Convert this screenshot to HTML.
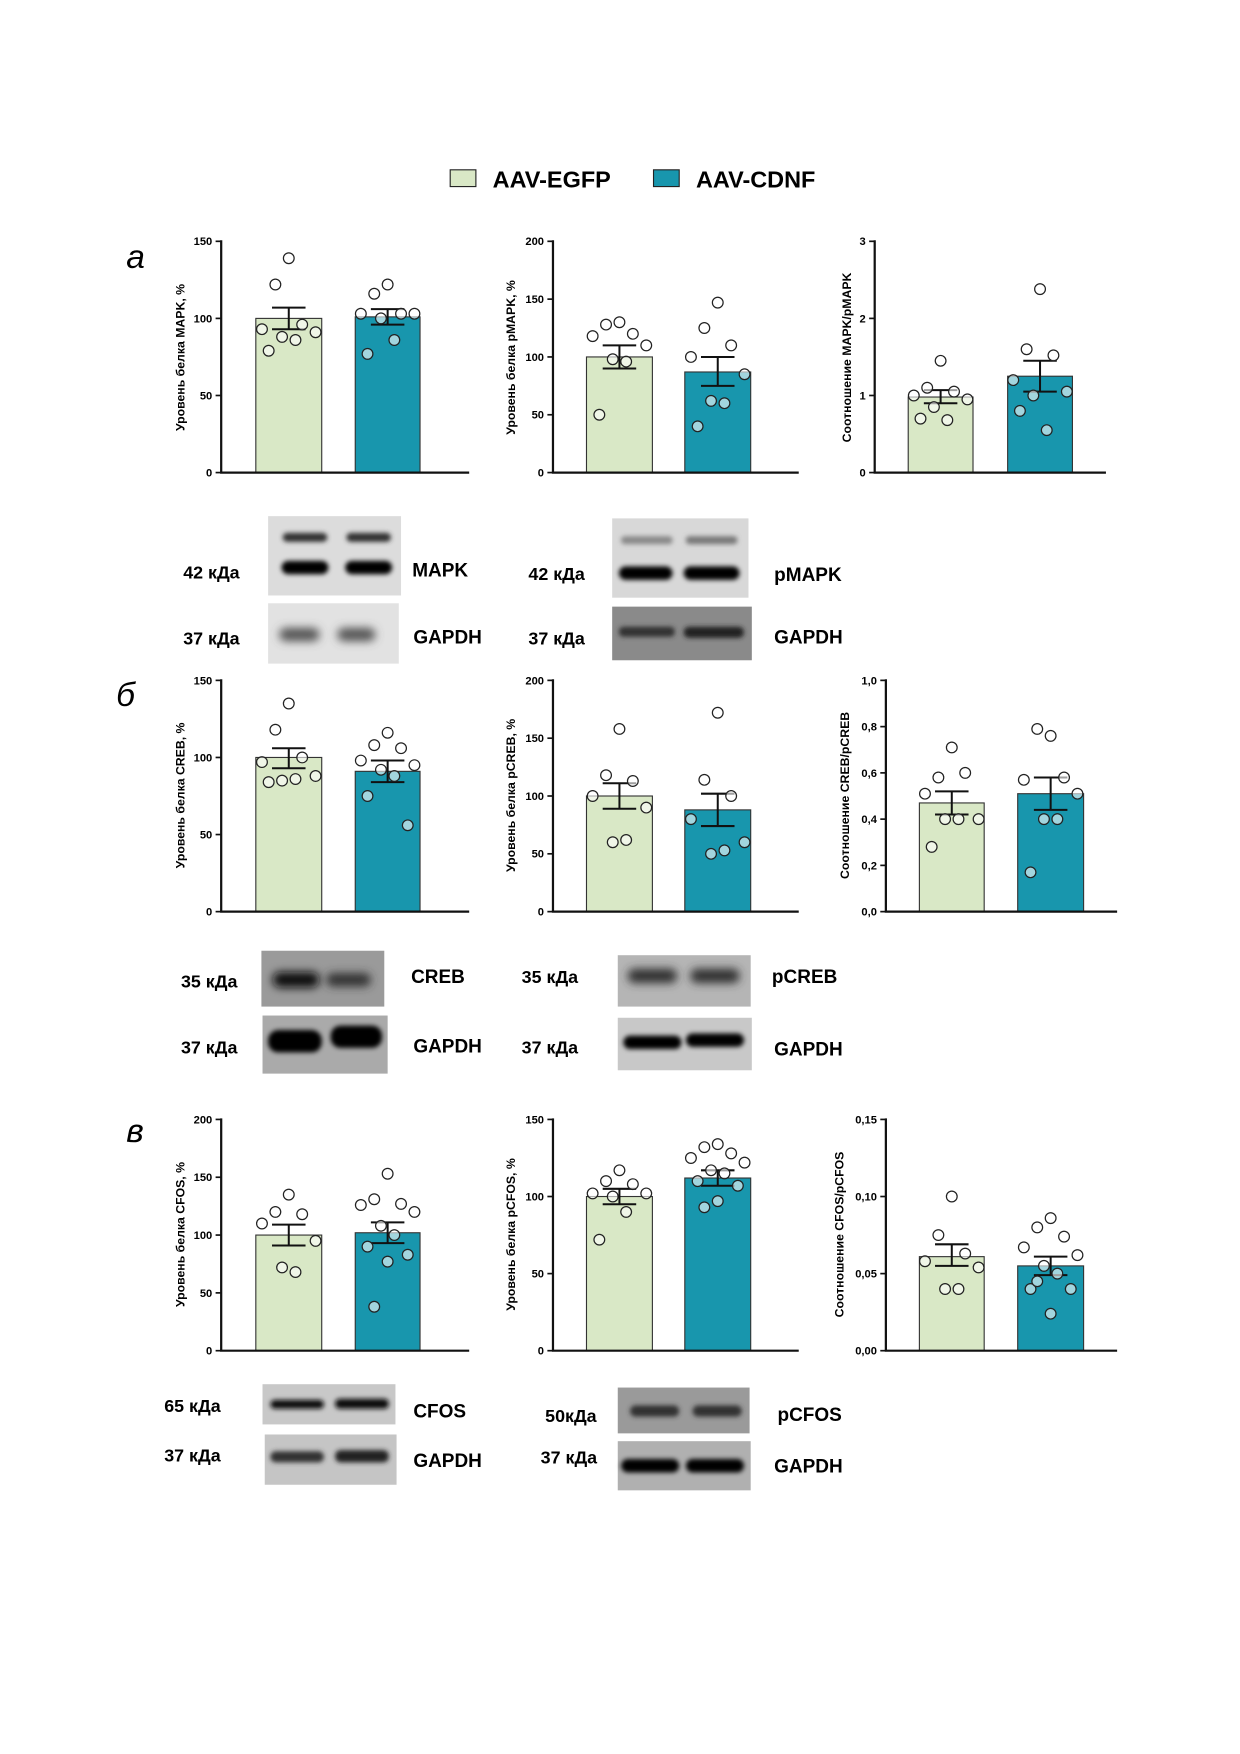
<!DOCTYPE html>
<html><head><meta charset="utf-8"><style>
html,body{margin:0;padding:0;background:#fff}
svg{display:block}
text{font-family:"Liberation Sans",sans-serif}
.t{font-size:10px;font-weight:bold;text-anchor:end}
.yl{font-size:11px;font-weight:bold;text-anchor:middle}
.bl{font-size:17px;font-weight:bold}
.kd{font-size:16px;font-weight:bold}
.pl{font-size:30px;font-style:italic}
</style></head><body>
<svg id="s" width="1240" height="1754" viewBox="0 0 1110 1570" preserveAspectRatio="none" xmlns="http://www.w3.org/2000/svg">
<defs>
<filter id="b1" x="-50%" y="-100%" width="200%" height="300%"><feGaussianBlur stdDeviation="2.2"/></filter>
<filter id="b2" x="-50%" y="-100%" width="200%" height="300%"><feGaussianBlur stdDeviation="4"/></filter>
</defs>
<rect width="1110" height="1570" fill="#fff"/>
<!-- legend -->
<rect x="403" y="152" width="23" height="15" fill="#d9e8c6" stroke="#222" stroke-width="1"/>
<text x="441" y="168" style="font-size:21px;font-weight:bold">AAV-EGFP</text>
<rect x="585" y="152" width="23" height="15" fill="#1896ad" stroke="#222" stroke-width="1"/>
<text x="623" y="168" style="font-size:21px;font-weight:bold">AAV-CDNF</text>
<!-- panel letters -->
<text class="pl" x="113" y="240">а</text>
<text class="pl" x="104" y="632">б</text>
<text class="pl" x="113" y="1022">в</text>
<g id="charts"></g>
<!-- tick labels row a -->
<text class="t" x="190" y="426.5">0</text><text class="t" x="190" y="357.5">50</text><text class="t" x="190" y="288.5">100</text><text class="t" x="190" y="219.5">150</text>
<text class="t" x="487" y="426.5">0</text><text class="t" x="487" y="374.75">50</text><text class="t" x="487" y="323">100</text><text class="t" x="487" y="271.25">150</text><text class="t" x="487" y="219.5">200</text>
<text class="t" x="775" y="426.5">0</text><text class="t" x="775" y="357.5">1</text><text class="t" x="775" y="288.5">2</text><text class="t" x="775" y="219.5">3</text>
<!-- row b -->
<text class="t" x="190" y="819.5">0</text><text class="t" x="190" y="750.5">50</text><text class="t" x="190" y="681.5">100</text><text class="t" x="190" y="612.5">150</text>
<text class="t" x="487" y="819.5">0</text><text class="t" x="487" y="767.75">50</text><text class="t" x="487" y="716">100</text><text class="t" x="487" y="664.25">150</text><text class="t" x="487" y="612.5">200</text>
<text class="t" x="785" y="819.5">0,0</text><text class="t" x="785" y="778.1">0,2</text><text class="t" x="785" y="736.7">0,4</text><text class="t" x="785" y="695.3">0,6</text><text class="t" x="785" y="653.9">0,8</text><text class="t" x="785" y="612.5">1,0</text>
<!-- row c -->
<text class="t" x="190" y="1212.5">0</text><text class="t" x="190" y="1160.75">50</text><text class="t" x="190" y="1109">100</text><text class="t" x="190" y="1057.25">150</text><text class="t" x="190" y="1005.5">200</text>
<text class="t" x="487" y="1212.5">0</text><text class="t" x="487" y="1143.5">50</text><text class="t" x="487" y="1074.5">100</text><text class="t" x="487" y="1005.5">150</text>
<text class="t" x="785" y="1212.5">0,00</text><text class="t" x="785" y="1143.5">0,05</text><text class="t" x="785" y="1074.5">0,10</text><text class="t" x="785" y="1005.5">0,15</text>
<!-- y labels -->
<text class="yl" transform="translate(165,320) rotate(-90)">Уровень белка MAPK, %</text>
<text class="yl" transform="translate(461,320) rotate(-90)">Уровень белка pMAPK, %</text>
<text class="yl" transform="translate(762,320) rotate(-90)">Соотношение MAPK/pMAPK</text>
<text class="yl" transform="translate(165,712) rotate(-90)">Уровень белка CREB, %</text>
<text class="yl" transform="translate(461,712) rotate(-90)">Уровень белка pCREB, %</text>
<text class="yl" transform="translate(760,712) rotate(-90)">Соотношение CREB/pCREB</text>
<text class="yl" transform="translate(165,1105) rotate(-90)">Уровень белка CFOS, %</text>
<text class="yl" transform="translate(461,1105) rotate(-90)">Уровень белка pCFOS, %</text>
<text class="yl" transform="translate(755,1105) rotate(-90)">Соотношение CFOS/pCFOS</text>

<!-- blots a -->
<rect x="240" y="462" width="119" height="71" fill="#dcdcdc"/>
<rect x="253" y="477" width="40" height="8" rx="4" fill="#333" filter="url(#b1)"/>
<rect x="310" y="477" width="40" height="8" rx="4" fill="#333" filter="url(#b1)"/>
<rect x="252" y="502" width="42" height="12" rx="6" fill="#000" filter="url(#b1)"/>
<rect x="309" y="502" width="42" height="12" rx="6" fill="#000" filter="url(#b1)"/>
<rect x="240" y="540" width="117" height="54" fill="#e2e2e2"/>
<rect x="250" y="562" width="36" height="12" rx="6" fill="#555" filter="url(#b2)"/>
<rect x="302" y="562" width="34" height="12" rx="6" fill="#555" filter="url(#b2)"/>
<text class="kd" x="164" y="518">42 кДа</text><text class="bl" x="369" y="516">MAPK</text>
<text class="kd" x="164" y="577">37 кДа</text><text class="bl" x="370" y="576">GAPDH</text>
<rect x="548" y="464" width="122" height="71" fill="#d8d8d8"/>
<rect x="556" y="480" width="46" height="7" rx="3" fill="#888" filter="url(#b1)"/>
<rect x="614" y="480" width="46" height="7" rx="3" fill="#777" filter="url(#b1)"/>
<rect x="554" y="507" width="48" height="12" rx="6" fill="#000" filter="url(#b1)"/>
<rect x="612" y="507" width="50" height="12" rx="6" fill="#000" filter="url(#b1)"/>
<rect x="548" y="543" width="125" height="48" fill="#8a8a8a"/>
<rect x="554" y="561" width="50" height="9" rx="4" fill="#333" filter="url(#b1)"/>
<rect x="612" y="561" width="54" height="10" rx="5" fill="#222" filter="url(#b1)"/>
<text class="kd" x="473" y="519">42 кДа</text><text class="bl" x="693" y="520">pMAPK</text>
<text class="kd" x="473" y="577">37 кДа</text><text class="bl" x="693" y="576">GAPDH</text>
<!-- blots b -->
<rect x="234" y="851" width="110" height="50" fill="#9a9a9a"/>
<rect x="244" y="870" width="42" height="14" rx="7" fill="#111" filter="url(#b2)"/>
<rect x="292" y="871" width="40" height="12" rx="6" fill="#333" filter="url(#b2)"/>
<text class="kd" x="162" y="884">35 кДа</text><text class="bl" x="368" y="880">CREB</text>
<rect x="235" y="909" width="112" height="52" fill="#aaa"/>
<rect x="240" y="922" width="48" height="20" rx="9" fill="#000" filter="url(#b1)"/>
<rect x="296" y="918" width="46" height="20" rx="9" fill="#000" filter="url(#b1)"/>
<text class="kd" x="162" y="943">37 кДа</text><text class="bl" x="370" y="942">GAPDH</text>
<rect x="553" y="855" width="119" height="46" fill="#b5b5b5"/>
<rect x="562" y="867" width="44" height="13" rx="6" fill="#333" filter="url(#b2)"/>
<rect x="618" y="867" width="44" height="13" rx="6" fill="#333" filter="url(#b2)"/>
<text class="kd" x="467" y="880">35 кДа</text><text class="bl" x="691" y="880">pCREB</text>
<rect x="553" y="911" width="120" height="47" fill="#c8c8c8"/>
<rect x="558" y="927" width="52" height="12" rx="6" fill="#000" filter="url(#b1)"/>
<rect x="614" y="925" width="52" height="12" rx="6" fill="#000" filter="url(#b1)"/>
<text class="kd" x="467" y="943">37 кДа</text><text class="bl" x="693" y="945">GAPDH</text>
<!-- blots c -->
<rect x="235" y="1239" width="119" height="36" fill="#c8c8c8"/>
<rect x="242" y="1253" width="48" height="8" rx="4" fill="#111" filter="url(#b1)"/>
<rect x="300" y="1252" width="48" height="9" rx="4" fill="#111" filter="url(#b1)"/>
<text class="kd" x="147" y="1264">65 кДа</text><text class="bl" x="370" y="1269">CFOS</text>
<rect x="237" y="1284" width="118" height="45" fill="#c5c5c5"/>
<rect x="242" y="1299" width="48" height="10" rx="5" fill="#333" filter="url(#b1)"/>
<rect x="300" y="1298" width="48" height="11" rx="5" fill="#222" filter="url(#b1)"/>
<text class="kd" x="147" y="1308">37 кДа</text><text class="bl" x="370" y="1313">GAPDH</text>
<rect x="553" y="1242" width="118" height="41" fill="#9a9a9a"/>
<rect x="564" y="1258" width="44" height="10" rx="5" fill="#333" filter="url(#b1)"/>
<rect x="620" y="1258" width="44" height="10" rx="5" fill="#333" filter="url(#b1)"/>
<text class="kd" x="488" y="1273">50кДа</text><text class="bl" x="696" y="1272">pCFOS</text>
<rect x="553" y="1290" width="119" height="44" fill="#b0b0b0"/>
<rect x="556" y="1306" width="52" height="12" rx="6" fill="#000" filter="url(#b1)"/>
<rect x="614" y="1306" width="52" height="12" rx="6" fill="#000" filter="url(#b1)"/>
<text class="kd" x="484" y="1310">37 кДа</text><text class="bl" x="693" y="1318">GAPDH</text>
</svg>
<script>
var NS="http://www.w3.org/2000/svg",G=document.getElementById("charts");
function el(t,a){var e=document.createElementNS(NS,t);for(var k in a)e.setAttribute(k,a[k]);G.appendChild(e);return e;}
var C=[
[198,423,150,420,3,[[229,288,100,93,107,[139,122,96,93,91,88,86,79]],[318,376,101,96,106,[122,116,103,103,103,100,86,77]]]],
[495,423,200,715,4,[[525,584,100,90,110,[130,128,120,118,110,98,96,50]],[613,672,87,75,100,[147,125,110,100,85,62,60,40]]]],
[783,423,3,990,3,[[813,871,0.98,0.9,1.07,[1.45,1.1,1.05,1.0,0.95,0.85,0.68,0.7]],[902,960,1.25,1.05,1.45,[2.38,1.6,1.52,1.2,1.05,1.0,0.55,0.8]]]],
[198,816,150,420,3,[[229,288,100,93,106,[135,118,100,97,88,85,86,84]],[318,376,91,84,98,[116,108,106,98,95,92,88,75,56]]]],
[495,816,200,715,4,[[525,584,100,89,111,[158,118,113,100,90,60,62]],[613,672,88,74,102,[172,114,100,80,60,50,53]]]],
[793,816,1,1000,5,[[823,881,0.47,0.42,0.52,[0.71,0.58,0.6,0.51,0.4,0.4,0.4,0.28]],[911,970,0.51,0.44,0.58,[0.76,0.79,0.58,0.57,0.51,0.4,0.4,0.17]]]],
[198,1209,200,420,4,[[229,288,100,91,109,[135,120,118,110,95,72,68]],[318,376,102,93,111,[153,131,127,126,120,108,100,90,83,77,38]]]],
[495,1209,150,715,3,[[525,584,100,95,105,[117,110,108,102,102,100,90,72]],[613,672,112,107,117,[134,132,128,125,122,117,115,110,107,97,93]]]],
[793,1209,0.15,1000,3,[[823,881,0.061,0.055,0.069,[0.1,0.075,0.063,0.058,0.054,0.04,0.04]],[911,970,0.055,0.049,0.061,[0.086,0.08,0.074,0.067,0.062,0.055,0.05,0.04,0.04,0.024,0.045]]]]
];
var J=[0,-12,12,-24,24,-6,6,-18,18,0,-12,12];
C.forEach(function(c){
 var ax=c[0],bt=c[1],mx=c[2],H=207;
 function Y(v){return bt-v/mx*H;}
 c[5].forEach(function(b,i){
  el("rect",{x:b[0],y:Y(b[2]),width:b[1]-b[0],height:bt-Y(b[2]),fill:i?"#1896ad":"#d9e8c6",stroke:"#333","stroke-width":1});
 });
 c[5].forEach(function(b){
  var cx=(b[0]+b[1])/2;
  el("line",{x1:cx,x2:cx,y1:Y(b[3]),y2:Y(b[4]),stroke:"#111","stroke-width":1.8});
  el("line",{x1:cx-15,x2:cx+15,y1:Y(b[3]),y2:Y(b[3]),stroke:"#111","stroke-width":1.8});
  el("line",{x1:cx-15,x2:cx+15,y1:Y(b[4]),y2:Y(b[4]),stroke:"#111","stroke-width":1.8});
  b[5].forEach(function(v,k){
   el("circle",{cx:cx+J[k%J.length],cy:Y(v),r:4.8,fill:"#fff","fill-opacity":0.6,stroke:"#222","stroke-width":1.1});
  });
 });
 el("line",{x1:ax,x2:ax,y1:bt-H-1,y2:bt,stroke:"#111","stroke-width":2});
 el("line",{x1:ax-1,x2:c[3],y1:bt,y2:bt,stroke:"#111","stroke-width":2});
 for(var i=0;i<=c[4];i++){var y=bt-H*i/c[4];el("line",{x1:ax-5,x2:ax,y1:y,y2:y,stroke:"#111","stroke-width":1.5});}
});
</script>
</body></html>
